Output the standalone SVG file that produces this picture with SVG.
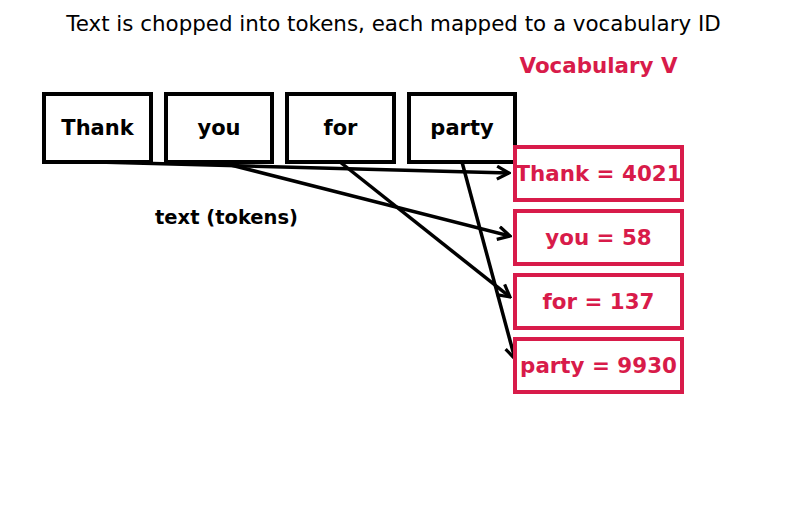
<svg xmlns="http://www.w3.org/2000/svg" width="787" height="508" viewBox="0 0 787 508">
<style>
.tok{fill:#fff;stroke:#000;stroke-width:4}
.voc{fill:#fff;stroke:#d81b4a;stroke-width:4}
.tt{font-family:"DejaVu Sans",sans-serif;font-weight:bold;font-size:21px;text-anchor:middle;dominant-baseline:central;fill:#000}
.vt{font-family:"DejaVu Sans",sans-serif;font-weight:bold;font-size:21.4px;text-anchor:middle;dominant-baseline:central;fill:#d81b4a}
.ln{stroke:#000;stroke-width:3.5;fill:none;marker-end:url(#ah)}
</style>
<defs>
<marker id="ah" viewBox="0 0 16 16" refX="14" refY="8" markerWidth="16" markerHeight="16" markerUnits="userSpaceOnUse" orient="auto">
<path d="M2,1.5 L14,8 L2,14.5" fill="none" stroke="#000" stroke-width="3.2"/>
</marker>
</defs>
<rect width="787" height="508" fill="#fff"/>
<text x="393.5" y="23" font-family="DejaVu Sans,sans-serif" font-size="21.4" text-anchor="middle" dominant-baseline="central" fill="#000">Text is chopped into tokens, each mapped to a vocabulary ID</text>
<text x="598.5" y="65" class="vt">Vocabulary V</text>
<g id="connectors">
<line class="ln" x1="97" y1="162" x2="509" y2="173"/>
<line class="ln" x1="219" y1="162" x2="510" y2="236"/>
<line class="ln" x1="340" y1="162" x2="510" y2="297"/>
<line class="ln" x1="462" y1="162" x2="515" y2="359"/>
</g>
<g id="tok-thank"><rect class="tok" x="44" y="94" width="107" height="68"/><text class="tt" x="97.5" y="127.5">Thank</text></g>
<g id="tok-you"><rect class="tok" x="166" y="94" width="106" height="68"/><text class="tt" x="219" y="127.5">you</text></g>
<g id="tok-for"><rect class="tok" x="287" y="94" width="107" height="68"/><text class="tt" x="340.5" y="127.5">for</text></g>
<g id="tok-party"><rect class="tok" x="409" y="94" width="106" height="68"/><text class="tt" x="462" y="127.5">party</text></g>
<text x="226.5" y="217" font-family="DejaVu Sans,sans-serif" font-weight="bold" font-size="19.5" text-anchor="middle" dominant-baseline="central" fill="#000">text (tokens)</text>
<g id="voc-thank"><rect class="voc" x="515" y="147" width="167" height="53"/><text class="vt" x="598.5" y="173">Thank = 4021</text></g>
<g id="voc-you"><rect class="voc" x="515" y="211" width="167" height="53"/><text class="vt" x="598.5" y="237">you = 58</text></g>
<g id="voc-for"><rect class="voc" x="515" y="275" width="167" height="53"/><text class="vt" x="598.5" y="301">for = 137</text></g>
<g id="voc-party"><rect class="voc" x="515" y="339" width="167" height="53"/><text class="vt" x="598.5" y="365">party = 9930</text></g>
</svg>
